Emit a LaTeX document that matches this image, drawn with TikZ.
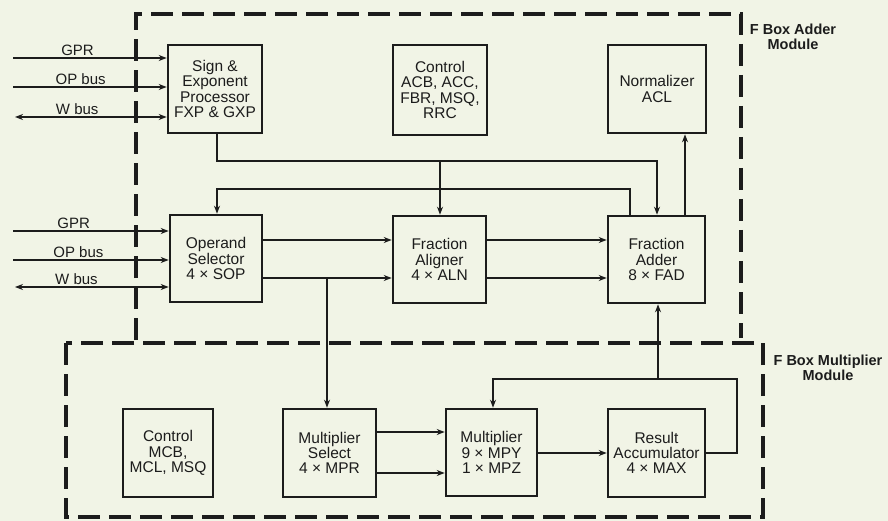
\documentclass[tikz,border=0pt]{standalone}
\usepackage{fontspec}
\setmainfont{Liberation Sans}
\usetikzlibrary{arrows.meta}
\definecolor{paper}{RGB}{241,244,230}
\definecolor{ink}{RGB}{28,28,28}
\tikzset{
  x=1pt, y=-1pt,
  blk/.style={draw=ink, line width=2.6pt, fill=paper, inner sep=0pt, align=center,
    font=\fontsize{15.5}{15.3}\selectfont, text=ink},
  conn/.style={draw=ink, line width=1.3pt, -{Stealth[length=8pt,width=6pt]}},
  bidir/.style={draw=ink, line width=1.3pt, {Stealth[length=8pt,width=6pt]}-{Stealth[length=8pt,width=6pt]}},
  plain/.style={draw=ink, line width=1.3pt},
  modbox/.style={draw=ink, line width=3.4pt, dash pattern=on 22pt off 9pt},
  lbl/.style={font=\fontsize{15}{15.3}\selectfont, text=ink, inner sep=1.5pt},
  modlbl/.style={font=\fontsize{14.5}{15.2}\selectfont\bfseries, text=ink, align=center, inner sep=0pt}
}
\begin{document}
\begin{tikzpicture}
\fill[paper] (0,0) rectangle (888,521);
\useasboundingbox (0,0) rectangle (888,521);

% module boundaries
\draw[modbox] (136,340) -- (136,14) -- (741,14) -- (741,338);
\draw[modbox] (66,343) rectangle (763,517);
\node[modlbl] (addlbl) at (793,37) {F Box Adder\\Module};
\node[modlbl] (mullbl) at (828,368) {F Box Multiplier\\Module};

% blocks
\node[blk, minimum width=94, minimum height=88] (sep) at (215,89) {Sign \&\\Exponent\\Processor\\FXP \& GXP};
\node[blk, minimum width=94, minimum height=90] (ctla) at (440,90) {Control\\ACB, ACC,\\FBR, MSQ,\\RRC};
\node[blk, minimum width=98, minimum height=88] (norm) at (657,89) {Normalizer\\ACL};
\node[blk, minimum width=92, minimum height=87] (opsel) at (216,258.5) {Operand\\Selector\\4 × SOP};
\node[blk, minimum width=93, minimum height=87] (align) at (439.5,259.5) {Fraction\\Aligner\\4 × ALN};
\node[blk, minimum width=97, minimum height=87] (fadd) at (656.5,259.5) {Fraction\\Adder\\8 × FAD};
\node[blk, minimum width=90, minimum height=88] (ctlm) at (168,453) {Control\\MCB,\\MCL, MSQ};
\node[blk, minimum width=93, minimum height=88] (mpsel) at (329.5,453) {Multiplier\\Select\\4 × MPR};
\node[blk, minimum width=91, minimum height=87] (mult) at (491.5,452.5) {Multiplier\\9 × MPY\\1 × MPZ};
\node[blk, minimum width=97, minimum height=88] (racc) at (656.5,453) {Result\\Accumulator\\4 × MAX};

% external inputs
\coordinate (in1) at (13,58);
\coordinate (in2) at (13,87);
\coordinate (in3) at (15,117);
\coordinate (in4) at (13,231);
\coordinate (in5) at (13,260);
\coordinate (in6) at (15,287);
\draw[conn] (in1) -- node[lbl, above, pos=0.42] (l1) {GPR} (sep.west |- in1);
\draw[conn] (in2) -- node[lbl, above, pos=0.44] (l2) {OP bus} (sep.west |- in2);
\draw[bidir] (in3) -- node[lbl, above, pos=0.41] (l3) {W bus} (sep.west |- in3);
\draw[conn] (in4) -- node[lbl, above, pos=0.39] (l4) {GPR} (opsel.west |- in4);
\draw[conn] (in5) -- node[lbl, above, pos=0.42] (l5) {OP bus} (opsel.west |- in5);
\draw[bidir] (in6) -- node[lbl, above, pos=0.40] (l6) {W bus} (opsel.west |- in6);

% sign/exponent to aligner and adder
\coordinate (b1) at (217,161);
\coordinate (b2) at (657,161);
\coordinate (j1) at (440,161);
\draw[conn] (sep.south -| b1) -- (b1) -- (b2) -- (fadd.north -| b2);
\draw[conn] (j1) -- (align.north -| j1);

% adder feedback to operand selector
\coordinate (b3) at (630,189);
\coordinate (b4) at (217,189);
\draw[conn] (fadd.north -| b3) -- (b3) -- (b4) -- (opsel.north -| b4);

% adder to normalizer
\coordinate (b5) at (685,200);
\draw[conn] (fadd.north -| b5) -- (norm.south -| b5);

% operand selector -> aligner -> adder
\coordinate (r1) at (0,240);
\coordinate (r2) at (0,278);
\draw[conn] (opsel.east |- r1) -- (align.west |- r1);
\draw[conn] (opsel.east |- r2) -- (align.west |- r2);
\draw[conn] (align.east |- r1) -- (fadd.west |- r1);
\draw[conn] (align.east |- r2) -- (fadd.west |- r2);

% branch to multiplier select
\coordinate (j2) at (327,278);
\draw[conn] (j2) -- (mpsel.north -| j2);

% multiplier select -> multiplier
\coordinate (r3) at (0,432);
\coordinate (r4) at (0,473);
\draw[conn] (mpsel.east |- r3) -- (mult.west |- r3);
\draw[conn] (mpsel.east |- r4) -- (mult.west |- r4);

% multiplier -> accumulator
\coordinate (r5) at (0,453);
\draw[conn] (mult.east |- r5) -- (racc.west |- r5);

% accumulator feedback
\coordinate (b6) at (737,453);
\coordinate (b7) at (737,379);
\coordinate (b8) at (493,379);
\coordinate (j3) at (658,379);
\draw[conn] (racc.east |- b6) -- (b6) -- (b7) -- (b8) -- (mult.north -| b8);
\draw[conn] (j3) -- (fadd.south -| j3);
\end{tikzpicture}
\end{document}
